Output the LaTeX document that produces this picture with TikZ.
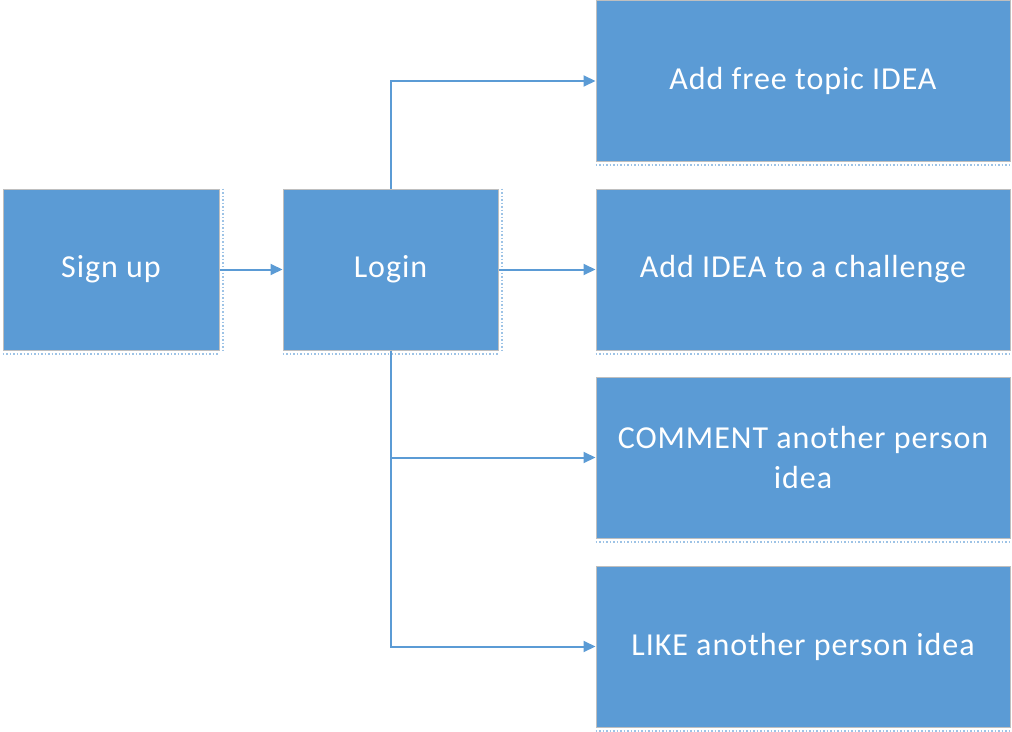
\documentclass[tikz,border=0pt]{standalone}
\usepackage{fontspec}
\setmainfont{Carlito}[LetterSpace=3]
\usetikzlibrary{arrows.meta}
\definecolor{boxblue}{HTML}{5B9BD5}
\definecolor{boxedge}{HTML}{BFBFBF}
\definecolor{dotblue}{HTML}{9DC3E6}
\begin{document}
\begin{tikzpicture}[x=1pt,y=-1pt,
  blk/.style={fill=boxblue,draw=boxedge,line width=1pt,text=white,font=\fontsize{32}{40}\selectfont,align=center,inner sep=0pt,minimum height=161pt},
  conn/.style={draw=boxblue,line width=2pt,-{Triangle[length=12pt,width=11pt]}},
  dots/.style={draw=dotblue,line width=2pt,dash pattern=on 1.5pt off 2pt}]
\useasboundingbox (0,0) rectangle (1012,731);
\node[blk,minimum width=216pt] (signup) at (111,269.5) {Sign up};
\node[blk,minimum width=215pt] (login) at (390.5,269.5) {Login};
\node[blk,minimum width=414pt] (free) at (803,81) {Add free topic IDEA};
\node[blk,minimum width=414pt] (chal) at (803,269.5) {Add IDEA to a challenge};
\node[blk,minimum width=414pt] (comm) at (803,457.5) {COMMENT another person\\idea};
\node[blk,minimum width=414pt] (like) at (803,646.5) {LIKE another person idea};
% dotted shadows
\foreach \n in {signup,login,free,chal,comm,like}{
  \draw[dots] ([yshift=-3pt]\n.south west) -- ([yshift=-3pt]\n.south east);
}
\foreach \n in {signup,login}{
  \draw[dots] ([xshift=3pt]\n.north east) -- ([xshift=3pt]\n.south east);
}
\coordinate (top) at (login.north |- free.west);
\coordinate (c3) at (login.south |- comm.west);
\coordinate (c4) at (login.south |- like.west);
\draw[conn] (signup.east) -- (login.west);
\draw[conn] (login.north) -- (top) -- (free.west);
\draw[conn] (login.east) -- (chal.west);
\draw[conn] (login.south) -- (c3) -- (comm.west);
\draw[conn] (login.south) -- (c4) -- (like.west);
\end{tikzpicture}
\end{document}
